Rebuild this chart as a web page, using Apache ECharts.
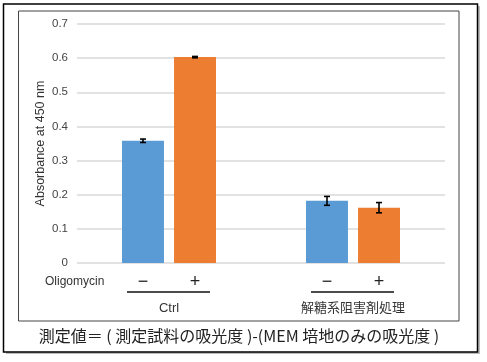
<!DOCTYPE html>
<html><head><meta charset="utf-8">
<script src="https://cdn.jsdelivr.net/npm/echarts@6/dist/echarts.min.js"></script>
<style>html,body{margin:0;padding:0;background:#fff}#c{width:487px;height:362px}</style>
</head><body><div id="c"></div>
<script>
const categories = ['Ctrl', '解糖系阻害剤処理'];
const minusValues = [0.358, 0.182];
const plusValues = [0.603, 0.162];
const minusErr = [0.005, 0.013];
const plusErr = [0.002, 0.015];
const yTicks = [0, 0.1, 0.2, 0.3, 0.4, 0.5, 0.6, 0.7];
const treatLabels = ['−', '+'];

const chart = echarts.init(document.getElementById('c'));
const BW = 0.228, GAP = 0.24;
function errSeries(vals, errs, sign) {
  return {
    type: 'custom', z: 5,
    data: vals.map((v, i) => [i, v, errs[i]]),
    renderItem: function (params, api) {
      const band = api.size([1, 0])[0];
      const off = sign * band * BW * (1 + GAP) / 2;
      const c = api.coord([api.value(0), api.value(1)]);
      const x = c[0] + off;
      const hi = api.coord([api.value(0), api.value(1) + api.value(2)])[1];
      const lo = api.coord([api.value(0), api.value(1) - api.value(2)])[1];
      const s = { stroke: '#000', lineWidth: 1.6 };
      return { type: 'group', children: [
        { type: 'line', shape: { x1: x, y1: hi, x2: x, y2: lo }, style: s },
        { type: 'line', shape: { x1: x - 3, y1: hi, x2: x + 3, y2: hi }, style: s },
        { type: 'line', shape: { x1: x - 3, y1: lo, x2: x + 3, y2: lo }, style: s }
      ]};
    }
  };
}
const font = 'Arial, "Liberation Sans", "Noto Sans CJK JP", sans-serif';
const option = {
  animation: false,
  textStyle: { fontFamily: font },
  grid: { left: 77, right: 42, top: 24, bottom: 99 },
  xAxis: { type: 'category', data: categories, axisLine: { show: false }, axisTick: { show: false }, axisLabel: { show: false } },
  yAxis: {
    type: 'value', min: 0, max: 0.7, interval: 0.1,
    name: 'Absorbance at 450 nm', nameLocation: 'middle', nameGap: 30, nameMoveOverlap: false,
    nameTextStyle: { fontSize: 12.5, color: '#333', fontFamily: font },
    axisLabel: { fontSize: 11.5, color: '#444', margin: 9, formatter: v => { const t = yTicks.find(k => Math.abs(k - v) < 1e-9); return t === 0 ? '0' : String(t); } },
    splitLine: { lineStyle: { color: '#d9d9d9', width: 1.5 } }
  },
  series: [
    { type: 'bar', data: minusValues, barWidth: (BW * 100) + '%', barGap: (GAP * 100) + '%', itemStyle: { color: '#5B9BD5' } },
    { type: 'bar', data: plusValues, barWidth: (BW * 100) + '%', itemStyle: { color: '#ED7D31' } },
    errSeries(minusValues, minusErr, -1),
    errSeries(plusValues, plusErr, 1)
  ]
};
chart.setOption(option);

const g = [];
g.push({ type: 'rect', shape: { x: 6, y: 6, width: 474, height: 348 }, style: { fill: '#bbb', stroke: null }, z: -3, silent: true });
g.push({ type: 'rect', shape: { x: 3.5, y: 4, width: 474, height: 348 }, style: { fill: '#fff', stroke: '#000', lineWidth: 1.5 }, z: -2, silent: true });
g.push({ type: 'rect', shape: { x: 18.5, y: 11, width: 440.5, height: 310 }, style: { fill: 'none', stroke: '#444', lineWidth: 1 }, z: -1, silent: true });
g.push({ type: 'text', x: 45, y: 282, style: { text: 'Oligomycin', fontSize: 12, fill: '#333', fontFamily: font, verticalAlign: 'middle' } });
categories.forEach((c, i) => {
  const cx = chart.convertToPixel({ xAxisIndex: 0 }, i);
  const band = 368 / categories.length;
  const off = band * BW * (1 + GAP) / 2;
  [-1, 1].forEach((s, j) => {
    g.push({ type: 'text', x: cx + s * off, y: 282, style: { text: treatLabels[j], fontSize: 18, fill: '#222', fontFamily: font, align: 'center', verticalAlign: 'middle' } });
  });
  g.push({ type: 'line', shape: { x1: cx - 42, y1: 292, x2: cx + 41, y2: 292 }, style: { stroke: '#111', lineWidth: 1.5 } });
  g.push({ type: 'text', x: cx, y: 308, style: { text: c, fontSize: 13, fill: '#333', fontFamily: font, align: 'center', verticalAlign: 'middle' } });
});
g.push({ type: 'text', x: 239, y: 336, style: { text: '測定値＝ ( 測定試料の吸光度 )-(MEM 培地のみの吸光度 )', fontSize: 16, fill: '#222', fontFamily: '"Noto Sans CJK JP", sans-serif', align: 'center', verticalAlign: 'middle' } });
chart.setOption({ graphic: g });
</script></body></html>
